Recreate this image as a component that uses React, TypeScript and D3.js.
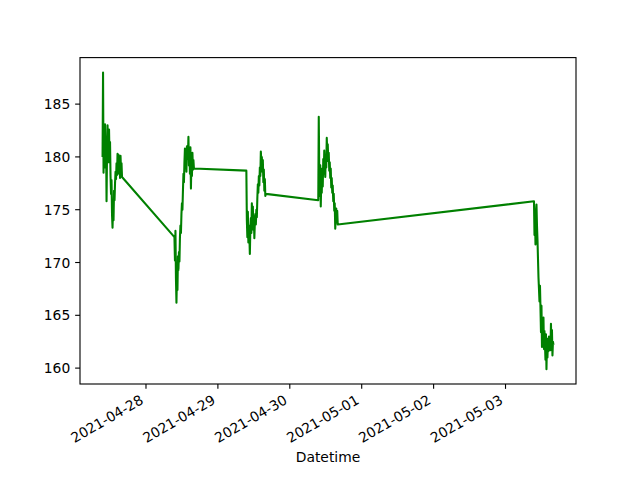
import * as d3 from 'd3';
import React, { useRef, useEffect } from 'react';

// trading days shown (date of session) and 10-minute closes from 9:30 to 16:00
const sessionDays = ['2021-04-27', '2021-04-28', '2021-04-29', '2021-04-30', '2021-05-03'];

const closes0427 = [
    180.0, 188.0, 178.5, 182.8, 179.0, 183.1, 180.2, 181.8, 175.8, 180.5,
    183.0, 181.2, 179.5, 182.6, 180.0, 181.4, 178.2, 176.5, 177.8, 174.5,
    173.3, 175.2, 174.0, 176.8, 175.9, 177.5, 178.6, 177.9, 179.4, 178.3,
    180.3, 179.0, 180.2, 178.4, 179.6, 178.0, 180.1, 178.7, 179.4, 178.1,
];
const closes0428 = [
    172.4, 170.2, 173.0, 168.5, 166.2, 168.8, 167.4, 170.6, 169.3, 171.0,
    170.1, 172.4, 173.5, 172.8, 174.6, 175.6, 175.0, 176.8, 178.4, 177.6,
    179.5, 180.8, 179.0, 180.5, 178.6, 181.0, 179.8, 180.2, 181.9, 179.2,
    180.6, 178.4, 180.9, 177.0, 179.6, 178.2, 180.4, 178.8, 179.7, 178.9,
];
const closes0429 = [
    178.7, 174.0, 172.4, 174.8, 171.9, 173.5, 172.6, 170.8, 173.2, 174.2,
    172.8, 175.6, 174.0, 175.3, 173.1, 174.4, 172.3, 173.8, 174.6, 173.6,
    175.0, 174.3, 176.1, 177.4, 176.6, 178.2, 177.3, 179.0, 178.2, 180.5,
    179.6, 180.0, 178.6, 179.7, 177.6, 178.8, 176.8, 177.9, 176.3, 176.5,
];
const closes0430 = [
    175.9, 183.8, 178.5, 176.3, 179.2, 175.3, 177.8, 176.6, 178.9, 177.2,
    179.8, 178.4, 180.6, 179.3, 178.1, 180.2, 179.0, 181.8, 180.5, 181.2,
    179.6, 180.4, 178.7, 179.5, 178.0, 178.9, 177.1, 178.0, 176.6, 177.3,
    175.8, 176.5, 174.9, 175.6, 173.2, 174.2, 175.1, 173.8, 174.9, 173.6,
];
const closes0503 = [
    175.8, 172.6, 174.3, 171.7, 174.8, 175.5, 173.5, 172.2, 170.4, 168.6,
    167.5, 166.3, 167.8, 165.7, 163.4, 165.9, 162.0, 164.6, 162.6, 164.8,
    161.8, 163.5, 162.3, 160.8, 163.2, 159.9, 162.4, 161.0, 162.8, 161.6,
    163.0, 161.9, 162.6, 161.7, 164.2, 162.1, 163.6, 161.2, 162.5, 162.2,
];
const sessionCloses = [closes0427, closes0428, closes0429, closes0430, closes0503];

const xLabel = 'Datetime';
const yTickValues = [160, 165, 170, 175, 180, 185];

const App = () => {
    const svgRef = useRef<SVGSVGElement>(null);

    useEffect(() => {
        const width = 640;
        const height = 480;
        const margin = { top: 57.6, right: 64, bottom: 96, left: 80 };
        const font = '"DejaVu Sans", sans-serif';
        const fontSize = 13.89;
        const tickLen = 4.86;

        const parse = d3.timeParse('%Y-%m-%d %H:%M');
        const points: any[] = [];
        sessionDays.forEach((day, k) => {
            const open = parse(`${day} 09:30`) as Date;
            sessionCloses[k].forEach((v, i) => {
                points.push({ t: d3.timeMinute.offset(open, i * 10), v });
            });
        });

        const svg = d3.select(svgRef.current);
        svg.selectAll('*').remove();

        const [t0, t1]: any = d3.extent(points, (d: any) => d.t);
        const padT = (t1 - t0) * 0.05;
        const [v0, v1]: any = d3.extent(points, (d: any) => d.v);
        const padV = (v1 - v0) * 0.05;

        const x = d3
            .scaleTime()
            .domain([new Date(+t0 - padT), new Date(+t1 + padT)])
            .range([margin.left, width - margin.right]);
        const y = d3
            .scaleLinear()
            .domain([v0 - padV, v1 + padV])
            .range([height - margin.bottom, margin.top]);

        const g = svg.append('g');

        // line
        const line = d3
            .line<any>()
            .x((d) => x(d.t))
            .y((d) => y(d.v));
        g.append('path')
            .datum(points)
            .attr('d', line)
            .attr('fill', 'none')
            .attr('stroke', '#008000')
            .attr('stroke-width', 2.08)
            .attr('stroke-linejoin', 'round');

        // frame
        g.append('rect')
            .attr('x', margin.left)
            .attr('y', margin.top)
            .attr('width', width - margin.left - margin.right)
            .attr('height', height - margin.top - margin.bottom)
            .attr('fill', 'none')
            .attr('stroke', 'black')
            .attr('stroke-width', 1.11);

        // y ticks
        const yTicks = g.append('g');
        yTickValues.forEach((v) => {
            yTicks.append('line')
                .attr('x1', margin.left - tickLen)
                .attr('x2', margin.left)
                .attr('y1', y(v))
                .attr('y2', y(v))
                .attr('stroke', 'black')
                .attr('stroke-width', 1.11);
            yTicks.append('text')
                .attr('x', margin.left - tickLen - 4.86)
                .attr('y', y(v))
                .attr('dy', '0.36em')
                .attr('text-anchor', 'end')
                .style('font-family', font)
                .style('font-size', `${fontSize}px`)
                .text(v);
        });

        // x ticks (daily)
        const fmt = d3.timeFormat('%Y-%m-%d');
        const xTicks = g.append('g');
        const bottom = height - margin.bottom;
        x.ticks(d3.timeDay.every(1) as any).forEach((t: Date) => {
            const px = x(t);
            xTicks.append('line')
                .attr('x1', px)
                .attr('x2', px)
                .attr('y1', bottom)
                .attr('y2', bottom + tickLen)
                .attr('stroke', 'black')
                .attr('stroke-width', 1.11);
            xTicks.append('text')
                .attr('transform', `translate(${px - 6.9}, ${bottom + tickLen + 4.86}) rotate(-30)`)
                .attr('dy', '0.76em')
                .attr('text-anchor', 'end')
                .style('font-family', font)
                .style('font-size', `${fontSize}px`)
                .text(fmt(t));
        });

        g.append('text')
            .attr('x', (margin.left + width - margin.right) / 2)
            .attr('y', 461.7)
            .attr('text-anchor', 'middle')
            .style('font-family', font)
            .style('font-size', `${fontSize}px`)
            .text(xLabel);
    }, []);

    return (
        <svg
            ref={svgRef}
            width={640}
            height={480}
            style={{ position: 'absolute', left: 0, top: 0, background: 'white' }}
        />
    );
};

export default App;
